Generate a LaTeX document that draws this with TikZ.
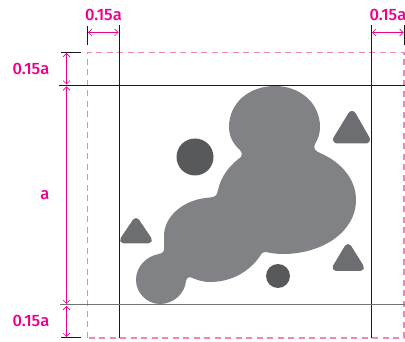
\documentclass[tikz,border=0pt]{standalone}
\usepackage{fontspec}
\setmainfont{Fira Sans Medium}
\usetikzlibrary{arrows.meta}
\definecolor{mag}{HTML}{EC008C}
\definecolor{lmag}{HTML}{F285B8}
\definecolor{blobc}{HTML}{808285}
\definecolor{circc}{HTML}{58595B}
\definecolor{tric}{HTML}{6D6E71}
\tikzset{
  px/.style={x=1pt,y=-1pt},
  guide/.style={draw=black!90,line width=0.9pt},
  guidegray/.style={draw=black!55,line width=1pt},
  frame/.style={draw=lmag,line width=1.2pt,dash pattern=on 6pt off 4.5pt},
  dim/.style={draw=mag,line width=0.9pt,{Straight Barb[length=3.5pt,width=7pt,line width=0.6pt]}-{Straight Barb[length=3.5pt,width=7pt,line width=0.6pt]}},
  lab/.style={text=mag,font=\fontsize{16.5}{16.5}\selectfont,inner sep=0pt},
  tri/.style={fill=tric,draw=tric,line join=round},
  disc/.style={fill=circc}
}
\begin{document}
\begin{tikzpicture}[px]
\useasboundingbox (0,0) rectangle (405,342);
% frame
\draw[frame] (87.5,338) -- (87.5,52.5) -- (404,52.5) -- (404,338) -- cycle;
% shapes
\fill[blobc] (229,127) .. controls (229,103) and (249,86) .. (275,86)
 .. controls (300,86) and (320,103) .. (320,127)
 .. controls (320,134) and (318,139) .. (315,144)
 .. controls (313,148) and (315,151) .. (320,153)
 .. controls (341,162) and (356,179) .. (356,200)
 .. controls (356,232) and (322,254) .. (283,254)
 .. controls (276,254) and (270,253) .. (266,252)
 .. controls (263,251.5) and (262,253) .. (260,256)
 .. controls (250,271) and (232,282) .. (210,282)
 .. controls (205,282) and (200,281) .. (195,279)
 .. controls (189,276) and (187,277) .. (186,281)
 .. controls (185,293) and (174,304) .. (160,304)
 .. controls (147,304) and (136,293) .. (136,280)
 .. controls (136,266) and (147,256) .. (159,254)
 .. controls (163,253) and (165,251) .. (164,246)
 .. controls (164,243) and (164,240) .. (164,236)
 .. controls (164,216) and (184,199) .. (210,197.5)
 .. controls (216,197) and (217,195) .. (218,190)
 .. controls (221,176) and (230,165) .. (241,157)
 .. controls (243,155) and (242,152) .. (240,150)
 .. controls (233,144) and (229,136) .. (229,127) -- cycle;
\fill[disc] (195,157) circle[radius=18.5];
\fill[disc] (278,276) circle[radius=12];
\path[tri,line width=8pt] (352,115) -- (366,139.5) -- (337,139.5) -- cycle;
\path[tri,line width=7pt] (136,221.5) -- (148.5,240) -- (123.5,240) -- cycle;
\path[tri,line width=7pt] (348,247.5) -- (360.5,267.5) -- (336,267.5) -- cycle;
% guides
\draw[guide] (119,25) -- (119,338);
\draw[guide] (371.5,25) -- (371.5,338);
\draw[guide] (87.5,26) -- (87.5,45);
\draw[guide] (404,25) -- (404,45);
\draw[guide] (59,85.5) -- (405,85.5);
\draw[guidegray] (60,305) -- (405,305);
\draw[guide] (61,52.5) -- (81,52.5);
\draw[guide] (61,337.5) -- (81,337.5);
% dimension arrows
\coordinate (ha) at (88,32.5); \coordinate (hb) at (118.5,32.5);
\coordinate (hc) at (372,32.5); \coordinate (hd) at (403.5,32.5);
\coordinate (va) at (66.5,53); \coordinate (vb) at (66.5,84.5);
\coordinate (vc) at (66.5,86.5); \coordinate (vd) at (66.5,304);
\coordinate (ve) at (66.5,306); \coordinate (vf) at (66.5,337);
\draw[dim] (ha) -- (hb);
\draw[dim] (hc) -- (hd);
\draw[dim] (va) -- (vb);
\draw[dim] (vc) -- (vd);
\draw[dim] (ve) -- (vf);
% labels
\node[lab] (l1) at (103.5,15) {0.15a};
\node[lab] (l2) at (388,15) {0.15a};
\node[lab] (l3) at (31,68.5) {0.15a};
\node[lab] (l4) at (31,320.5) {0.15a};
\node[lab] (l5) at (45,195) {a};
\end{tikzpicture}
\end{document}
